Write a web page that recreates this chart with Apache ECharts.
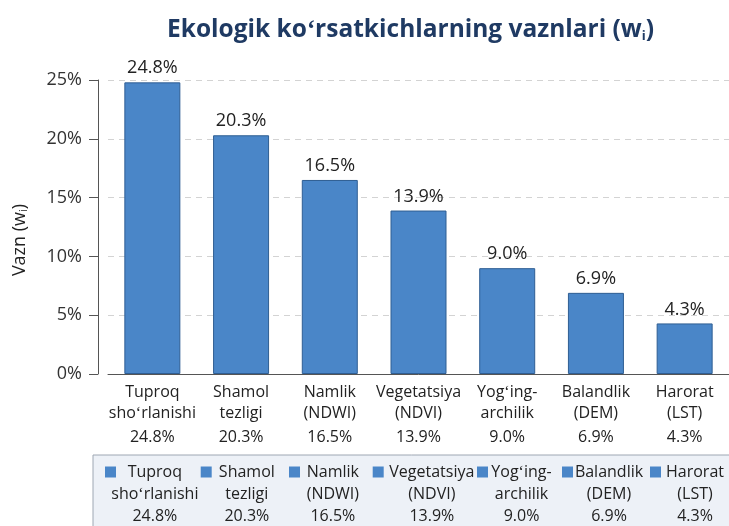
<!DOCTYPE html>
<html><head><meta charset="utf-8">
<script src="https://cdn.jsdelivr.net/npm/echarts@6/dist/echarts.min.js"></script>
<style>html,body{margin:0;padding:0;background:#fff}#c{width:729px;height:526px}</style>
</head><body><div id="c"></div>
<script>
// ---- data ----
const titleMain = 'Ekologik koʻrsatkichlarning vaznlari (w';
const titleSub = 'i';
const yName = 'Vazn (w';
const categories = ['Tuproq\nshoʻrlanishi', 'Shamol\ntezligi', 'Namlik\n(NDWI)', 'Vegetatsiya\n(NDVI)', 'Yogʻing-\narchilik', 'Balandlik\n(DEM)', 'Harorat\n(LST)'];
const weights = [24.8, 20.3, 16.5, 13.9, 9.0, 6.9, 4.3];
const yMin = 0, yMax = 25, yStep = 5;

// ---- styles ----
const FONT = 'Open Sans';
const BAR = '#4a86c8';
const BAR_BORDER = '#2f5e93';
const TXT = '#222';
const legendCellWidths = [67.7, 60.3, 55.7, 86.3, 57, 62, 58];
const legendCellPads = [12, 12, 12, 2, 12, 10, 12];
const pct = v => v.toFixed(1) + '%';

const chart = echarts.init(document.getElementById('c'), null, {renderer: 'canvas'});

const series = categories.map((name, i) => ({
  name: name,
  type: 'bar',
  stack: 'w',
  barWidth: 56,
  data: weights.map((v, j) => (j === i ? v : '-')),
  itemStyle: {color: BAR, borderColor: BAR_BORDER, borderWidth: 1},
  label: {show: true, position: 'top', distance: 5, fontSize: 18, color: TXT, fontFamily: FONT,
          formatter: p => pct(p.value)},
  emphasis: {disabled: true}
}));

const legendRich = {};
legendCellWidths.forEach((w, i) => {
  legendRich['c' + i] = {align: 'center', width: w, padding: [0, legendCellPads[i], 0, 0], fontSize: 16, lineHeight: 22, color: TXT, fontFamily: FONT};
});

chart.setOption({
  animation: false,
  textStyle: {fontFamily: FONT},
  title: {
    text: '{t|' + titleMain + '}{s|' + titleSub + '}{t|)}',
    left: 162, top: 13,
    textStyle: {
      rich: {
        t: {fontSize: 24.5, fontWeight: 'bold', color: '#1f3a63', fontFamily: FONT},
        s: {fontSize: 13, fontWeight: 'bold', color: '#1f3a63', fontFamily: FONT, verticalAlign: 'bottom'}
      }
    }
  },
  grid: {left: 108, right: -6, top: 80, bottom: 152, containLabel: false},
  xAxis: {
    type: 'category',
    data: categories,
    axisLine: {lineStyle: {color: '#555', width: 1}},
    axisTick: {show: false},
    axisLabel: {
      interval: 0, margin: 8,
      formatter: (v, idx) => v.split('\n').map(l => '{n|' + l + '}').join('\n') + '\n{p|' + pct(weights[idx]) + '}',
      rich: {
        n: {fontSize: 16, lineHeight: 21, color: TXT, fontFamily: FONT},
        p: {fontSize: 16, lineHeight: 27, color: TXT, fontFamily: FONT}
      }
    }
  },
  yAxis: {
    type: 'value', min: yMin, max: yMax, interval: yStep, offset: 10,
    name: '{n|' + yName + '}{s|i}{e|)}',
    nameLocation: 'middle', nameGap: 69,
    nameTextStyle: {
      rich: {
        n: {fontSize: 18, color: TXT, fontFamily: FONT},
        s: {fontSize: 11, color: TXT, fontFamily: FONT, verticalAlign: 'bottom'},
        e: {fontSize: 18, color: TXT, fontFamily: FONT, padding: [0, 26, 0, 0]}
      }
    },
    axisLine: {show: true, lineStyle: {color: '#555', width: 1}},
    axisTick: {show: true, length: 9, lineStyle: {color: '#555'}},
    axisLabel: {formatter: '{value}%', fontSize: 18, color: '#333', margin: 16},
    splitLine: {show: true, lineStyle: {type: [6, 5], color: '#d3d3d3'}}
  },
  legend: {
    data: categories,
    left: 93, top: 455, width: 1400,
    padding: [6, 40, 30, 12],
    itemGap: 0,
    itemWidth: 11, itemHeight: 66,
    icon: 'path://M0 0M0 5.5h11v11H0zM11 66',
    itemStyle: {borderWidth: 0},
    backgroundColor: '#edf1f7',
    borderColor: '#9ea7b3', borderWidth: 1,
    selectedMode: false,
    textStyle: {color: TXT, fontSize: 16, rich: legendRich},
    formatter: name => {
      const i = categories.indexOf(name);
      const s = 'c' + i;
      return name.split('\n').map(l => '{' + s + '|' + l + '}').join('\n') + '\n{' + s + '|' + pct(weights[i]) + '}';
    }
  },
  series: series
});
</script></body></html>
